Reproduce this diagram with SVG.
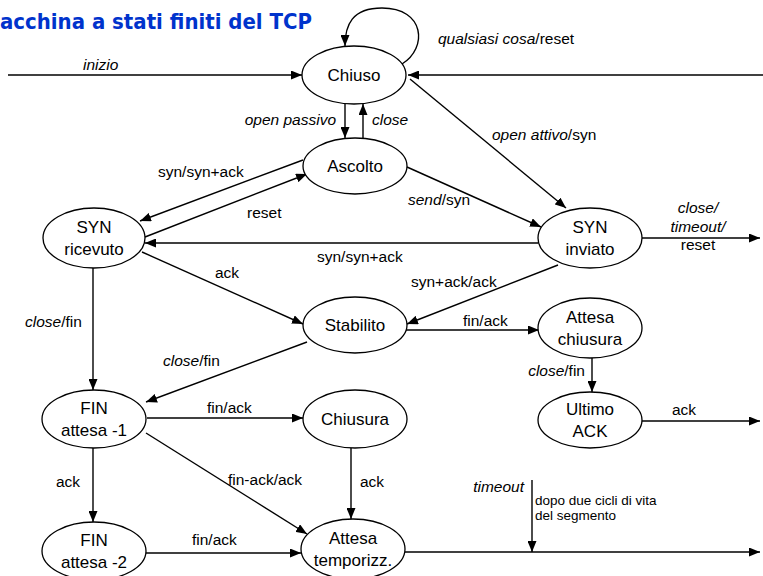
<svg xmlns="http://www.w3.org/2000/svg" width="763" height="576" viewBox="0 0 763 576">
<style>
.n ellipse{fill:#fff;stroke:#000;stroke-width:1.3}
.n text{font-family:"Liberation Sans",Arial,sans-serif;font-size:17px;text-anchor:middle;fill:#000}
.c path{fill:none;stroke:#000;stroke-width:1.4;marker-end:url(#ah)}
.l{font-family:"Liberation Sans",Arial,sans-serif;font-size:15.5px;fill:#000}
.s{font-family:"Liberation Sans",Arial,sans-serif;font-size:13.5px;fill:#000}
.i{font-style:italic}
.t{font-family:Tahoma,"DejaVu Sans",sans-serif;font-weight:bold;font-size:21.5px;fill:#0033cc}
</style>
<defs>
<marker id="ah" viewBox="0 0 10 10" refX="10" refY="5" markerWidth="11" markerHeight="9" markerUnits="userSpaceOnUse" orient="auto" preserveAspectRatio="none"><path d="M0,0 L10,5 L0,10 z" fill="#000"/></marker>
</defs>
<rect width="763" height="576" fill="#fff"/>
<text class="t" x="0" y="29" textLength="312" lengthAdjust="spacingAndGlyphs">acchina a stati finiti del TCP</text>

<g id="connectors" class="c">
<path d="M8,75 H302"/>
<path d="M763,75 H408"/>
<path d="M402,64 C428,48 425,8 382,8 C352,8 345,25 345,46"/>
<path d="M345,104 V138"/>
<path d="M363,138 V104"/>
<path d="M410,79 L566,208"/>
<path d="M407,167 L541,227"/>
<path d="M303,160 L140,221"/>
<path d="M145,237 L307,174"/>
<path d="M538,243 H145"/>
<path d="M142,252 L303,324"/>
<path d="M93,268 V390"/>
<path d="M558,265 L407,324"/>
<path d="M406,330 H539"/>
<path d="M307,342 L146,402"/>
<path d="M592,358 V392"/>
<path d="M642,421 H760"/>
<path d="M642,238 H760"/>
<path d="M147,418 H303"/>
<path d="M146,433 L307,534"/>
<path d="M93,448 V522"/>
<path d="M351,448 V519"/>
<path d="M146,553 H301"/>
<path d="M405,552 H760"/>
<path d="M532,480 V552"/>
</g>

<g id="labels">
<text class="l i" x="83" y="70">inizio</text>
<text class="l" x="438" y="44"><tspan class="i">qualsiasi cosa</tspan>/reset</text>
<text class="l i" x="336" y="125" text-anchor="end">open passivo</text>
<text class="l i" x="372" y="125">close</text>
<text class="l" x="492" y="140"><tspan class="i">open attivo</tspan>/syn</text>
<text class="l" x="408" y="205"><tspan class="i">send</tspan>/syn</text>
<text class="l" x="158" y="177">syn/syn+ack</text>
<text class="l" x="247" y="218">reset</text>
<text class="l" x="317" y="262">syn/syn+ack</text>
<text class="l" x="215" y="278">ack</text>
<text class="l" x="25" y="327"><tspan class="i">close</tspan>/fin</text>
<text class="l" x="411" y="287">syn+ack/ack</text>
<text class="l" x="463" y="326">fin/ack</text>
<text class="l" x="163" y="366"><tspan class="i">close</tspan>/fin</text>
<text class="l" x="585" y="376" text-anchor="end"><tspan class="i">close</tspan>/fin</text>
<text class="l" x="672" y="415">ack</text>
<text class="l i" x="698" y="213" text-anchor="middle">close/</text>
<text class="l i" x="698" y="232" text-anchor="middle">timeout/</text>
<text class="l" x="698" y="250" text-anchor="middle">reset</text>
<text class="l" x="207" y="413">fin/ack</text>
<text class="l" x="228" y="485">fin-ack/ack</text>
<text class="l" x="56" y="487">ack</text>
<text class="l" x="360" y="487">ack</text>
<text class="l" x="192" y="545">fin/ack</text>
<text class="l i" x="524" y="492" text-anchor="end">timeout</text>
<text class="s" x="535" y="505">dopo due cicli di vita</text>
<text class="s" x="535" y="520">del segmento</text>
</g>

<g id="chiuso" class="n"><ellipse cx="354" cy="75" rx="52" ry="29"/><text x="354" y="81">Chiuso</text></g>
<g id="ascolto" class="n"><ellipse cx="355" cy="166" rx="52" ry="28"/><text x="355" y="172">Ascolto</text></g>
<g id="syn-ricevuto" class="n"><ellipse cx="94" cy="238" rx="51" ry="30"/><text x="94" y="233">SYN</text><text x="94" y="255">ricevuto</text></g>
<g id="syn-inviato" class="n"><ellipse cx="590" cy="238" rx="52" ry="30"/><text x="590" y="233">SYN</text><text x="590" y="255">inviato</text></g>
<g id="stabilito" class="n"><ellipse cx="355" cy="325" rx="52" ry="28"/><text x="355" y="331">Stabilito</text></g>
<g id="attesa-chiusura" class="n"><ellipse cx="590" cy="328" rx="52" ry="30"/><text x="590" y="323">Attesa</text><text x="590" y="345">chiusura</text></g>
<g id="fin-attesa-1" class="n"><ellipse cx="94" cy="419" rx="52" ry="29"/><text x="94" y="414">FIN</text><text x="94" y="436">attesa -1</text></g>
<g id="chiusura" class="n"><ellipse cx="355" cy="419" rx="52" ry="29"/><text x="355" y="425">Chiusura</text></g>
<g id="ultimo-ack" class="n"><ellipse cx="590" cy="420" rx="52" ry="28"/><text x="590" y="415">Ultimo</text><text x="590" y="437">ACK</text></g>
<g id="fin-attesa-2" class="n"><ellipse cx="94" cy="551" rx="52" ry="29"/><text x="94" y="546">FIN</text><text x="94" y="568">attesa -2</text></g>
<g id="attesa-temporizz" class="n"><ellipse cx="353" cy="549" rx="52" ry="30"/><text x="353" y="544">Attesa</text><text x="353" y="566">temporizz.</text></g>
</svg>
